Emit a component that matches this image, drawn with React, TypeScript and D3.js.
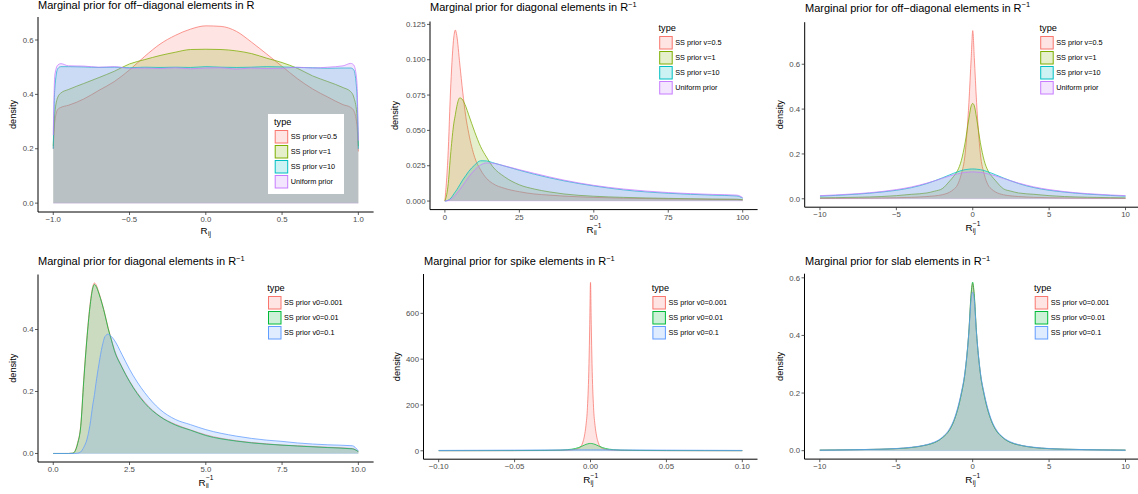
import * as d3 from "d3";
import React from "react";

const W = 1138;
const H = 494;
const FONT = "'Liberation Sans', Arial, Helvetica, sans-serif";

const hue4 = ["#F8766D", "#7CAE00", "#00BFC4", "#C77CFF"];
const hue3 = ["#F8766D", "#00BA38", "#619CFF"];
const names4 = ["SS prior v=0.5", "SS prior v=1", "SS prior v=10", "Uniform prior"];
const names3 = ["SS prior v0=0.001", "SS prior v0=0.01", "SS prior v0=0.1"];

// ---- panel 1: off-diagonal elements in R
const p1X = [-1.0, -0.99, -0.97, -0.95, -0.9, -0.8, -0.7, -0.6, -0.5, -0.4, -0.3, -0.2, -0.1, 0, 0.1, 0.2, 0.3, 0.4, 0.5, 0.6, 0.7, 0.8, 0.9, 0.95, 0.97, 0.99, 1.0];
const p1V05 = [0.2, 0.3, 0.345, 0.352, 0.36, 0.383, 0.415, 0.447, 0.49, 0.54, 0.585, 0.617, 0.64, 0.652, 0.65, 0.632, 0.592, 0.548, 0.503, 0.458, 0.42, 0.39, 0.362, 0.352, 0.34, 0.29, 0.19];
const p1V1 = [0.21, 0.33, 0.39, 0.405, 0.418, 0.44, 0.462, 0.485, 0.512, 0.528, 0.543, 0.555, 0.565, 0.566, 0.565, 0.56, 0.55, 0.533, 0.517, 0.496, 0.468, 0.447, 0.425, 0.41, 0.39, 0.33, 0.21];
const p1V10 = [0.2, 0.42, 0.495, 0.502, 0.502, 0.501, 0.499, 0.5, 0.498, 0.5, 0.499, 0.5, 0.499, 0.502, 0.5, 0.499, 0.5, 0.502, 0.501, 0.499, 0.498, 0.496, 0.497, 0.497, 0.49, 0.41, 0.2];
const p1Unif = [0.25, 0.47, 0.508, 0.513, 0.505, 0.504, 0.5, 0.502, 0.496, 0.497, 0.495, 0.498, 0.494, 0.497, 0.498, 0.493, 0.497, 0.495, 0.496, 0.5, 0.497, 0.5, 0.505, 0.514, 0.508, 0.45, 0.23];

// ---- panel 2: diagonal elements in R^-1
const p2X = [0, 1, 2, 3, 3.5, 4, 5, 6, 7, 8, 10, 12, 14, 16, 20, 25, 30, 35, 40, 50, 60, 75, 90, 98, 100];
const p2V05 = [0, 0.03, 0.083, 0.116, 0.121, 0.117, 0.097, 0.077, 0.06, 0.048, 0.031, 0.022, 0.016, 0.0125, 0.009, 0.0066, 0.005, 0.0042, 0.0035, 0.0026, 0.002, 0.0015, 0.0012, 0.0011, 0.0008];
const p2V1 = [0, 0.01, 0.035, 0.055, 0.061, 0.067, 0.073, 0.0715, 0.067, 0.061, 0.049, 0.0385, 0.031, 0.0245, 0.0172, 0.0115, 0.0085, 0.0065, 0.005, 0.0034, 0.0026, 0.0019, 0.0014, 0.0013, 0.001];
const p2V10 = [0, 0.0005, 0.002, 0.005, 0.0065, 0.008, 0.0115, 0.015, 0.018, 0.021, 0.0255, 0.0285, 0.0284, 0.0272, 0.0248, 0.0218, 0.019, 0.0165, 0.0143, 0.0107, 0.0079, 0.0055, 0.0042, 0.0036, 0.002];
const p2Unif = [0, 0.0003, 0.0012, 0.003, 0.004, 0.0055, 0.008, 0.011, 0.014, 0.017, 0.022, 0.0255, 0.027, 0.0268, 0.0249, 0.0222, 0.0196, 0.0171, 0.0148, 0.0111, 0.0085, 0.006, 0.0047, 0.0042, 0.0025];

// ---- panel 3: off-diagonal elements in R^-1
const p3X = [-10, -9, -7.5, -6, -5, -4, -3, -2.5, -2, -1.5, -1.25, -1, -0.75, -0.5, -0.25, -0.1, 0, 0.1, 0.25, 0.5, 0.75, 1, 1.25, 1.5, 2, 2.5, 3, 4, 5, 6, 7.5, 9, 10];
const p3V05 = [0.002, 0.0022, 0.003, 0.0038, 0.0048, 0.0065, 0.01, 0.013, 0.018, 0.03, 0.042, 0.062, 0.11, 0.2, 0.43, 0.63, 0.75, 0.63, 0.43, 0.2, 0.11, 0.062, 0.042, 0.03, 0.018, 0.013, 0.01, 0.0065, 0.0048, 0.0038, 0.003, 0.0022, 0.002];
const p3V1 = [0.004, 0.005, 0.007, 0.01, 0.014, 0.02, 0.026, 0.034, 0.045, 0.08, 0.1, 0.125, 0.17, 0.25, 0.36, 0.415, 0.425, 0.415, 0.36, 0.25, 0.17, 0.125, 0.1, 0.08, 0.045, 0.034, 0.026, 0.02, 0.014, 0.01, 0.007, 0.005, 0.004];
const p3V10 = [0.012, 0.015, 0.021, 0.03, 0.038, 0.05, 0.068, 0.08, 0.093, 0.107, 0.114, 0.12, 0.126, 0.13, 0.132, 0.133, 0.133, 0.133, 0.132, 0.13, 0.126, 0.12, 0.114, 0.107, 0.093, 0.08, 0.068, 0.05, 0.038, 0.03, 0.021, 0.015, 0.012];
const p3Unif = [0.014, 0.017, 0.023, 0.032, 0.041, 0.053, 0.07, 0.08, 0.091, 0.102, 0.107, 0.111, 0.115, 0.118, 0.119, 0.12, 0.12, 0.12, 0.119, 0.118, 0.115, 0.111, 0.107, 0.102, 0.091, 0.08, 0.07, 0.053, 0.041, 0.032, 0.023, 0.017, 0.014];

// ---- panel 4: diagonal elements in R^-1 (v0)
const p4X = [0, 0.5, 0.65, 0.7, 0.8, 0.9, 1.0, 1.1, 1.2, 1.3, 1.35, 1.4, 1.5, 1.6, 1.7, 1.8, 1.9, 2.0, 2.25, 2.5, 3.0, 3.5, 4.0, 4.5, 5.0, 6.0, 7.0, 7.5, 8.0, 9.0, 9.8, 10.0];
const p4V001 = [0, 0, 0.001, 0.006, 0.035, 0.09, 0.24, 0.37, 0.475, 0.54, 0.55, 0.545, 0.518, 0.485, 0.447, 0.405, 0.37, 0.336, 0.28, 0.234, 0.165, 0.12, 0.094, 0.076, 0.06, 0.041, 0.031, 0.027, 0.025, 0.02, 0.016, 0.006];
const p4V01 = [0, 0, 0.001, 0.005, 0.032, 0.087, 0.235, 0.366, 0.47, 0.535, 0.545, 0.54, 0.515, 0.483, 0.445, 0.403, 0.368, 0.333, 0.278, 0.232, 0.162, 0.119, 0.092, 0.075, 0.058, 0.04, 0.03, 0.027, 0.024, 0.019, 0.015, 0.006];
const p4V1 = [0, 0, 0, 0, 0.001, 0.005, 0.02, 0.044, 0.09, 0.16, 0.19, 0.226, 0.29, 0.344, 0.378, 0.385, 0.378, 0.366, 0.32, 0.272, 0.196, 0.142, 0.11, 0.093, 0.077, 0.056, 0.043, 0.039, 0.034, 0.028, 0.025, 0.008];

// ---- panel 5: spike elements in R^-1
const p5X = [-0.1, -0.075, -0.05, -0.03, -0.02, -0.015, -0.01, -0.008, -0.006, -0.005, -0.004, -0.003, -0.002, -0.001, -0.0005, 0, 0.0005, 0.001, 0.002, 0.003, 0.004, 0.005, 0.006, 0.008, 0.01, 0.015, 0.02, 0.03, 0.05, 0.075, 0.1];
const p5V001 = [0.3, 0.4, 0.6, 1.2, 2, 3, 6, 10, 22, 38, 65, 110, 190, 380, 550, 735, 550, 380, 190, 110, 65, 38, 22, 10, 6, 3, 2, 1.2, 0.6, 0.4, 0.3];
const p5V01 = [0.5, 0.7, 1, 1.8, 3, 5, 10, 14, 19, 22, 25, 28, 30, 31.5, 32, 32, 32, 31.5, 30, 28, 25, 22, 19, 14, 10, 5, 3, 1.8, 1, 0.7, 0.5];
const p5V1 = [1.6, 2.2, 2.8, 3.5, 3.8, 4.0, 4.1, 4.1, 4.15, 4.15, 4.2, 4.2, 4.2, 4.2, 4.2, 4.2, 4.2, 4.2, 4.2, 4.2, 4.2, 4.15, 4.15, 4.1, 4.1, 4.0, 3.8, 3.5, 2.8, 2.2, 1.6];

// ---- panel 6: slab elements in R^-1
const p6X = [-10, -9, -7.5, -6, -5, -4, -3, -2.5, -2, -1.5, -1.25, -1, -0.75, -0.5, -0.25, -0.1, 0, 0.1, 0.25, 0.5, 0.75, 1, 1.25, 1.5, 2, 2.5, 3, 4, 5, 6, 7.5, 9, 10];
const p6V001 = [0.002, 0.0025, 0.0035, 0.005, 0.007, 0.011, 0.02, 0.028, 0.044, 0.074, 0.1, 0.14, 0.195, 0.27, 0.41, 0.54, 0.58, 0.54, 0.41, 0.27, 0.195, 0.14, 0.1, 0.074, 0.044, 0.028, 0.02, 0.011, 0.007, 0.005, 0.0035, 0.0025, 0.002];
const p6V01 = [0.002, 0.0025, 0.0035, 0.005, 0.007, 0.011, 0.02, 0.028, 0.044, 0.073, 0.1, 0.139, 0.194, 0.27, 0.412, 0.545, 0.585, 0.545, 0.412, 0.27, 0.194, 0.139, 0.1, 0.073, 0.044, 0.028, 0.02, 0.011, 0.007, 0.005, 0.0035, 0.0025, 0.002];
const p6V1 = [0.002, 0.0026, 0.0036, 0.0052, 0.0075, 0.012, 0.021, 0.03, 0.046, 0.077, 0.104, 0.145, 0.2, 0.275, 0.41, 0.525, 0.55, 0.525, 0.41, 0.275, 0.2, 0.145, 0.104, 0.077, 0.046, 0.03, 0.021, 0.012, 0.0075, 0.0052, 0.0036, 0.0026, 0.002];

// tick values
const xTicksR = [-1, -0.5, 0, 0.5, 1];
const xTicksDiag = [0, 25, 50, 75, 100];
const xTicksTen = [-10, -5, 0, 5, 10];
const xTicksDiag2 = [0, 2.5, 5, 7.5, 10];
const xTicksSpike = [-0.1, -0.05, 0, 0.05, 0.1];
const yTicks06 = [0, 0.2, 0.4, 0.6];
const yTicks04 = [0, 0.2, 0.4];
const yTicksDiag = [0, 0.025, 0.05, 0.075, 0.1, 0.125];
const yTicksSpike = [0, 200, 400, 600];

const panels = [
  {
    title: "Marginal prior for off\u2212diagonal elements in R", sup: false,
    box: { l: 38, t: 17, r: 373.6, b: 212 }, titleX: 38, titleY: 8.8, yLabX: 15.5, xLabY: 234,
    xs: p1X, series: [p1V05, p1V1, p1V10, p1Unif], colors: hue4, names: names4,
    xTicks: xTicksR, xFmt: ".1f", yTicks: yTicks06, yFmt: ".1f", sub: "ij", xSup: false,
    legend: { x: 274, y: 125, bg: { x: 268, y: 114, w: 76, h: 80 } },
  },
  {
    title: "Marginal prior for diagonal elements in R", sup: true,
    box: { l: 430, t: 21.5, r: 757.6, b: 209.6 }, titleX: 430, titleY: 11, yLabX: 398, xLabY: 233,
    xs: p2X, series: [p2V05, p2V1, p2V10, p2Unif], colors: hue4, names: names4,
    xTicks: xTicksDiag, xFmt: "d", yTicks: yTicksDiag, yFmt: ".3f", sub: "ii", xSup: true,
    legend: { x: 658.5, y: 31, bg: null },
  },
  {
    title: "Marginal prior for off\u2212diagonal elements in R", sup: true,
    box: { l: 804.7, t: 22.2, r: 1140.8, b: 207.2 }, titleX: 805, titleY: 11.5, yLabX: 783, xLabY: 230.7,
    xs: p3X, series: [p3V05, p3V1, p3V10, p3Unif], colors: hue4, names: names4,
    xTicks: xTicksTen, xFmt: "d", yTicks: yTicks06, yFmt: ".1f", sub: "ij", xSup: true,
    legend: { x: 1039.5, y: 31, bg: null },
  },
  {
    title: "Marginal prior for diagonal elements in R", sup: true,
    box: { l: 38, t: 274.5, r: 373.6, b: 462 }, titleX: 38, titleY: 265, yLabX: 15.5, xLabY: 485.5,
    xs: p4X, series: [p4V001, p4V01, p4V1], colors: hue3, names: names3,
    xTicks: xTicksDiag2, xFmt: ".1f", yTicks: yTicks04, yFmt: ".1f", sub: "ii", xSup: true,
    legend: { x: 267.3, y: 291, bg: null },
  },
  {
    title: "Marginal prior for spike elements in R", sup: true,
    box: { l: 423.5, t: 274, r: 757.5, b: 459.2 }, titleX: 424, titleY: 265, yLabX: 399.5, xLabY: 482.7,
    xs: p5X, series: [p5V001, p5V01, p5V1], colors: hue3, names: names3,
    xTicks: xTicksSpike, xFmt: ".2f", yTicks: yTicksSpike, yFmt: "d", sub: "ij", xSup: true,
    legend: { x: 651.7, y: 291, bg: null },
  },
  {
    title: "Marginal prior for slab elements in R", sup: true,
    box: { l: 804.5, t: 273.7, r: 1140.8, b: 459.1 }, titleX: 805, titleY: 265, yLabX: 783, xLabY: 483,
    xs: p6X, series: [p6V001, p6V01, p6V1], colors: hue3, names: names3,
    xTicks: xTicksTen, xFmt: "d", yTicks: yTicks06, yFmt: ".1f", sub: "ij", xSup: true,
    legend: { x: 1034, y: 291, bg: null },
  },
];

function XLabel({ cx, y, sub, sup }) {
  const fs = 9.8;
  const fsS = 6.6;
  const rW = 0.722 * fs;
  const subW = sub.length * 0.222 * fsS + 0.5;
  const supW = sup ? 1.14 * fsS : 0;
  const total = rW + Math.max(subW, supW);
  const x0 = cx - total / 2;
  return (
    <g fill="#000" fontFamily={FONT}>
      <text x={x0} y={y} fontSize={fs}>R</text>
      <text x={x0 + rW + 0.3} y={y + 2} fontSize={fsS}>{sub}</text>
      {sup && <text x={x0 + rW + 0.3} y={y - 5.2} fontSize={fsS}>{"\u22121"}</text>}
    </g>
  );
}

function Panel({ p }) {
  const { l, t, r, b } = p.box;
  const xExt = d3.extent(p.xs);
  const xPad = (xExt[1] - xExt[0]) * 0.05;
  const x = d3.scaleLinear().domain([xExt[0] - xPad, xExt[1] + xPad]).range([l, r]);
  const yMax = d3.max(p.series, (s) => d3.max(s));
  const y = d3.scaleLinear().domain([-0.05 * yMax, 1.05 * yMax]).range([b, t]);

  const area = d3
    .area()
    .x((d) => x(d[0]))
    .y0(y(0))
    .y1((d) => y(d[1]))
    .curve(d3.curveMonotoneX);
  const line = d3
    .line()
    .x((d) => x(d[0]))
    .y((d) => y(d[1]))
    .curve(d3.curveMonotoneX);

  const xf = d3.format(p.xFmt);
  const yf = d3.format(p.yFmt);
  const last = p.colors[p.colors.length - 1];
  const lg = p.legend;

  return (
    <g>
      {/* title */}
      <text x={p.titleX} y={p.titleY} fontSize={11} fill="#000" fontFamily={FONT}>
        {p.title}
        {p.sup && (
          <tspan dy={-4.5} fontSize={7.5}>
            {"\u22121"}
          </tspan>
        )}
      </text>

      {/* density areas */}
      {p.series.map((vals, i) => {
        const pts = p.xs.map((xv, j) => [xv, vals[j]]);
        return (
          <g key={i}>
            <path d={area(pts)} fill={p.colors[i]} fillOpacity={0.2} stroke="none" />
            <path d={line(pts)} fill="none" stroke={p.colors[i]} strokeWidth={0.75} />
          </g>
        );
      })}
      <line x1={x(xExt[0])} x2={x(xExt[1])} y1={y(0)} y2={y(0)} stroke={last} strokeOpacity={0.2} strokeWidth={1} />

      {/* legend */}
      {lg.bg && <rect x={lg.bg.x} y={lg.bg.y} width={lg.bg.w} height={lg.bg.h} fill="#fff" />}
      <text x={lg.x} y={lg.y} fontSize={9.2} fill="#000" fontFamily={FONT}>type</text>
      {p.names.map((nm, i) => (
        <g key={nm} transform={`translate(${lg.x + 0.7},${lg.y + 5 + i * 15})`}>
          <rect x={0} y={0} width={13.5} height={13.5} fill="#fff" />
          <rect x={0.5} y={0.5} width={12.5} height={12.5} fill={p.colors[i]} fillOpacity={0.2} stroke={p.colors[i]} strokeWidth={1} />
          <text x={16} y={6.75} dy="0.35em" fontSize={7.3} fill="#000" fontFamily={FONT}>
            {nm}
          </text>
        </g>
      ))}

      {/* axes */}
      <line x1={l} x2={l} y1={t} y2={b} stroke="#000" strokeWidth={1} />
      <line x1={l} x2={r} y1={b} y2={b} stroke="#000" strokeWidth={1} />
      {p.xTicks.map((v) => (
        <g key={"x" + v}>
          <line x1={x(v)} x2={x(v)} y1={b} y2={b + 3} stroke="#333" strokeWidth={0.8} />
          <text x={x(v)} y={b + 10.2} fontSize={7.8} fill="#4D4D4D" textAnchor="middle" fontFamily={FONT}>
            {xf(v)}
          </text>
        </g>
      ))}
      {p.yTicks.map((v) => (
        <g key={"y" + v}>
          <line x1={l - 3} x2={l} y1={y(v)} y2={y(v)} stroke="#333" strokeWidth={0.8} />
          <text x={l - 4.5} y={y(v)} dy="0.35em" fontSize={7.8} fill="#4D4D4D" textAnchor="end" fontFamily={FONT}>
            {yf(v)}
          </text>
        </g>
      ))}
      <text
        transform={`translate(${p.yLabX},${(t + b) / 2}) rotate(-90)`}
        textAnchor="middle"
        fontSize={9.2}
        fill="#000"
        fontFamily={FONT}
      >
        density
      </text>
      <XLabel cx={(l + r) / 2} y={p.xLabY} sub={p.sub} sup={p.xSup} />
    </g>
  );
}

export default function App() {
  return (
    <svg width={W} height={H} style={{ position: "absolute", left: 0, top: 0, background: "#fff" }}>
      <rect width={W} height={H} fill="#fff" />
      {panels.map((p, i) => (
        <Panel key={i} p={p} />
      ))}
    </svg>
  );
}
